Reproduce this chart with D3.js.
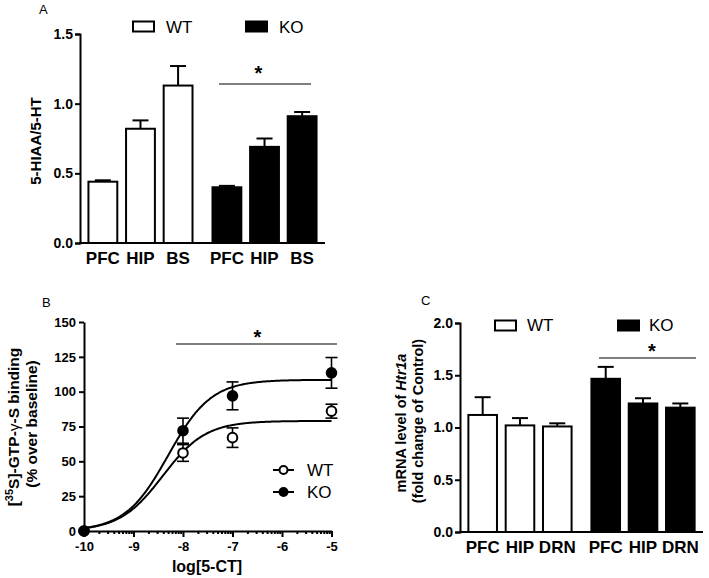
<!DOCTYPE html>
<html><head><meta charset="utf-8">
<script src="https://cdn.jsdelivr.net/npm/d3@7"></script>
<style>
body{margin:0;background:#fff}
text{font-family:"Liberation Sans",Arial,sans-serif;fill:#000}
</style>
</head><body><svg id="c" width="709" height="578"></svg>
<script>
// ---------- Panel A data ----------
const groups = ["WT", "KO"];
const regionsA = ["PFC", "HIP", "BS"];
const meanA_WT = [0.44, 0.82, 1.13];
const semA_WT  = [0.01, 0.06, 0.14];
const meanA_KO = [0.40, 0.69, 0.91];
const semA_KO  = [0.01, 0.06, 0.03];
const ticksA = [0, 0.5, 1.0, 1.5];

// ---------- Panel B data ----------
const doseB = [-10, -8, -7, -5];
const meanB_WT = [0, 56, 67, 86];
const semB_WT  = [0, 6, 7, 5];
const meanB_KO = [0, 72, 97, 113.5];
const semB_KO  = [0, 9, 10, 11];
const fitTopB = [79, 108.5];        // WT, KO (bottom 0, Hill slope 1)
const fitLogEC50B = [-8.41, -8.30]; // WT, KO
const ticksBx = [-10, -9, -8, -7, -6, -5];
const ticksBy = [0, 25, 50, 75, 100, 125, 150];

// ---------- Panel C data ----------
const regionsC = ["PFC", "HIP", "DRN"];
const meanC_WT = [1.12, 1.02, 1.01];
const semC_WT  = [0.17, 0.07, 0.03];
const meanC_KO = [1.466, 1.23, 1.19];
const semC_KO  = [0.114, 0.05, 0.04];
const ticksC = [0, 0.5, 1.0, 1.5, 2.0];

const svg = d3.select("#c");
const BOLD = "bold";

function styleAxis(g, fs) {
  g.selectAll("path,line").attr("stroke", "#000").attr("stroke-width", 2);
  g.selectAll("text").attr("font-size", fs).attr("font-weight", BOLD)
    .attr("font-family", "'Liberation Sans',Arial,sans-serif").attr("fill", "#000");
}

function barPanel(cfg) {
  const y = d3.scaleLinear().domain(cfg.yDomain).range([cfg.y0, cfg.y1]);
  const xo = d3.scaleBand().domain(groups).range([cfg.x0, cfg.x1])
    .paddingInner(cfg.padIn).paddingOuter(cfg.padOut);
  const xi = d3.scaleBand().domain(cfg.regions).range([0, xo.bandwidth()])
    .paddingInner(cfg.barPad).paddingOuter(0);
  const g = svg.append("g");
  const series = [
    {grp: "WT", mean: cfg.wt, sem: cfg.wtSem, fill: "#fff"},
    {grp: "KO", mean: cfg.ko, sem: cfg.koSem, fill: "#000"}
  ];
  series.forEach(s => {
    cfg.regions.forEach((r, i) => {
      const bx = xo(s.grp) + xi(r);
      const bw = xi.bandwidth();
      const cx = bx + bw / 2;
      g.append("line").attr("x1", cx).attr("x2", cx)
        .attr("y1", y(s.mean[i])).attr("y2", y(s.mean[i] + s.sem[i]))
        .attr("stroke", "#000").attr("stroke-width", 2);
      g.append("line").attr("x1", cx - 8).attr("x2", cx + 8)
        .attr("y1", y(s.mean[i] + s.sem[i])).attr("y2", y(s.mean[i] + s.sem[i]))
        .attr("stroke", "#000").attr("stroke-width", 2);
      g.append("rect").attr("x", bx + 1).attr("width", bw - 2)
        .attr("y", y(s.mean[i])).attr("height", y(0) - y(s.mean[i]))
        .attr("fill", s.fill).attr("stroke", "#000").attr("stroke-width", 2);
      g.append("text").attr("x", cx).attr("y", y(0) + cfg.labDy)
        .attr("text-anchor", "middle").attr("font-size", 17).attr("font-weight", BOLD)
        .text(r);
    });
  });
  const ya = g.append("g").attr("transform", `translate(${cfg.x0},0)`)
    .call(d3.axisLeft(y).tickValues(cfg.ticks).tickFormat(d3.format(".1f"))
      .tickSizeOuter(0).tickSize(5).tickPadding(2));
  styleAxis(ya, 14);
  g.append("line").attr("x1", cfg.x0 - 1).attr("x2", cfg.x1)
    .attr("y1", y(0)).attr("y2", y(0)).attr("stroke", "#000").attr("stroke-width", 2);
  return {y, xo, xi, g};
}

// ================= Panel A =================
barPanel({
  yDomain: [0, 1.5], y0: 243, y1: 34, x0: 80, x1: 325,
  padIn: 0.145, padOut: 0.06, barPad: 0.18,
  regions: regionsA, wt: meanA_WT, wtSem: semA_WT, ko: meanA_KO, koSem: semA_KO,
  ticks: ticksA, labDy: 20.5
});
svg.append("text").attr("x", 39).attr("y", 13.5).attr("font-size", 13)
  .attr("font-family", "'Open Sans',sans-serif").text("A");
svg.append("text").attr("transform", "translate(41,141) rotate(-90)")
  .attr("text-anchor", "middle").attr("font-size", 15).attr("font-weight", BOLD)
  .text("5-HIAA/5-HT");
svg.append("rect").attr("x", 133).attr("y", 21.5).attr("width", 21).attr("height", 10)
  .attr("fill", "#fff").attr("stroke", "#000").attr("stroke-width", 2);
svg.append("text").attr("x", 166).attr("y", 32.5).attr("font-size", 17).text("WT");
svg.append("rect").attr("x", 246).attr("y", 21.5).attr("width", 21).attr("height", 10)
  .attr("fill", "#000").attr("stroke", "#000").attr("stroke-width", 2);
svg.append("text").attr("x", 279).attr("y", 32.5).attr("font-size", 17).text("KO");
svg.append("line").attr("x1", 219).attr("x2", 311).attr("y1", 84).attr("y2", 84)
  .attr("stroke", "#000").attr("stroke-width", 1.2);
svg.append("text").attr("x", 258.5).attr("y", 80).attr("text-anchor", "middle")
  .attr("font-size", 20).attr("font-weight", BOLD).text("*");

// ================= Panel C =================
barPanel({
  yDomain: [0, 2.0], y0: 532, y1: 323, x0: 460, x1: 703,
  padIn: 0.145, padOut: 0.06, barPad: 0.18,
  regions: regionsC, wt: meanC_WT, wtSem: semC_WT, ko: meanC_KO, koSem: semC_KO,
  ticks: ticksC, labDy: 21
});
svg.append("text").attr("x", 421).attr("y", 305).attr("font-size", 13)
  .attr("font-family", "'Open Sans',sans-serif").text("C");
const tC1 = svg.append("text").attr("transform", "translate(406,423) rotate(-90)")
  .attr("text-anchor", "middle").attr("font-size", 14.5).attr("font-weight", BOLD);
tC1.append("tspan").text("mRNA level of ");
tC1.append("tspan").attr("font-style", "italic").text("Htr1a");
svg.append("text").attr("transform", "translate(423,421) rotate(-90)")
  .attr("text-anchor", "middle").attr("font-size", 14.5).attr("font-weight", BOLD)
  .text("(fold change of Control)");
svg.append("rect").attr("x", 495).attr("y", 320.5).attr("width", 21).attr("height", 10)
  .attr("fill", "#fff").attr("stroke", "#000").attr("stroke-width", 2);
svg.append("text").attr("x", 527).attr("y", 331).attr("font-size", 17).text("WT");
svg.append("rect").attr("x", 618).attr("y", 320.5).attr("width", 21).attr("height", 10)
  .attr("fill", "#000").attr("stroke", "#000").attr("stroke-width", 2);
svg.append("text").attr("x", 649).attr("y", 331).attr("font-size", 17).text("KO");
svg.append("line").attr("x1", 599).attr("x2", 696).attr("y1", 358).attr("y2", 358)
  .attr("stroke", "#000").attr("stroke-width", 1.2);
svg.append("text").attr("x", 652).attr("y", 357.5).attr("text-anchor", "middle")
  .attr("font-size", 20).attr("font-weight", BOLD).text("*");

// ================= Panel B =================
const xB = d3.scaleLinear().domain([-10, -5]).range([84, 331.5]);
const yB = d3.scaleLinear().domain([0, 150]).range([531, 322]);
const gB = svg.append("g");
const minor = [];
for (let d = -10; d < -5; d++) for (let k = 2; k <= 9; k++) minor.push(d + Math.log10(k));
const xaMinor = gB.append("g").attr("transform", `translate(0,${yB(0)})`)
  .call(d3.axisBottom(xB).tickValues(minor).tickFormat("").tickSize(3).tickSizeOuter(0));
styleAxis(xaMinor, 13);
xaMinor.select(".domain").remove();
const xaB = gB.append("g").attr("transform", `translate(0,${yB(0)})`)
  .call(d3.axisBottom(xB).tickValues(ticksBx).tickFormat(d3.format("d"))
    .tickSize(6).tickSizeOuter(0).tickPadding(5));
styleAxis(xaB, 13);
xaB.selectAll("text").text(d => String(d));
const yaB = gB.append("g").attr("transform", `translate(${xB(-10)},0)`)
  .call(d3.axisLeft(yB).tickValues(ticksBy).tickSize(5).tickSizeOuter(0).tickPadding(3));
styleAxis(yaB, 13);

const curveX = d3.range(-10, -4.999, 0.02);
const line = d3.line().x(d => xB(d[0])).y(d => yB(d[1])).curve(d3.curveBasis);
[0, 1].forEach(s => {
  const pts = curveX.map(x => [x, fitTopB[s] / (1 + Math.pow(10, fitLogEC50B[s] - x))]);
  gB.append("path").attr("d", line(pts)).attr("fill", "none")
    .attr("stroke", "#000").attr("stroke-width", 2);
});
const ptSeries = [
  {m: meanB_WT, e: semB_WT, fill: "#fff"},
  {m: meanB_KO, e: semB_KO, fill: "#000"}
];
ptSeries.forEach(s => {
  doseB.forEach((d, i) => {
    const cx = xB(d);
    if (s.e[i] > 0) {
      gB.append("line").attr("x1", cx).attr("x2", cx)
        .attr("y1", yB(s.m[i] - s.e[i])).attr("y2", yB(s.m[i] + s.e[i]))
        .attr("stroke", "#000").attr("stroke-width", 1.6);
      [s.m[i] - s.e[i], s.m[i] + s.e[i]].forEach(v => {
        gB.append("line").attr("x1", cx - 6).attr("x2", cx + 6)
          .attr("y1", yB(v)).attr("y2", yB(v)).attr("stroke", "#000").attr("stroke-width", 1.6);
      });
    }
  });
});
ptSeries.forEach(s => {
  doseB.forEach((d, i) => {
    gB.append("circle").attr("cx", xB(d)).attr("cy", yB(s.m[i])).attr("r", 4.8)
      .attr("fill", s.fill).attr("stroke", "#000").attr("stroke-width", 2);
  });
});
svg.append("text").attr("x", 42).attr("y", 307).attr("font-size", 13)
  .attr("font-family", "'Open Sans',sans-serif").text("B");
svg.append("text").attr("x", 207).attr("y", 572).attr("text-anchor", "middle")
  .attr("font-size", 16).attr("font-weight", BOLD).text("log[5-CT]");
const tB1 = svg.append("text").attr("transform", "translate(19,427) rotate(-90)")
  .attr("text-anchor", "middle").attr("font-size", 15.5).attr("font-weight", BOLD);
tB1.append("tspan").text("[");
tB1.append("tspan").attr("dy", -6).attr("font-size", 11).text("35");
tB1.append("tspan").attr("dy", 6).text("S]-GTP-");
tB1.append("tspan").attr("font-weight", "normal").text("γ");
tB1.append("tspan").text("-S binding");
svg.append("text").attr("transform", "translate(37,424) rotate(-90)")
  .attr("text-anchor", "middle").attr("font-size", 15.5).attr("font-weight", BOLD)
  .text("(% over baseline)");
[["WT", "#fff", 470, 475.5], ["KO", "#000", 492, 497.5]].forEach(r => {
  svg.append("line").attr("x1", 273).attr("x2", 294).attr("y1", r[2]).attr("y2", r[2])
    .attr("stroke", "#000").attr("stroke-width", 2);
  svg.append("circle").attr("cx", 283.5).attr("cy", r[2]).attr("r", 4)
    .attr("fill", r[1]).attr("stroke", "#000").attr("stroke-width", 2);
  svg.append("text").attr("x", 307).attr("y", r[3]).attr("font-size", 17).text(r[0]);
});
svg.append("line").attr("x1", 176).attr("x2", 337).attr("y1", 344).attr("y2", 344)
  .attr("stroke", "#000").attr("stroke-width", 1.2);
svg.append("text").attr("x", 257.5).attr("y", 344).attr("text-anchor", "middle")
  .attr("font-size", 20).attr("font-weight", BOLD).text("*");
</script>
</body></html>
